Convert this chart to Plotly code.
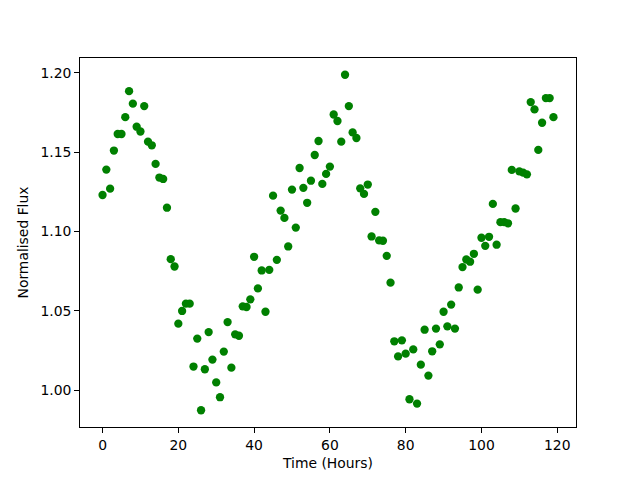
import plotly.graph_objects as go

hours = list(range(120))
flux = [
    1.123, 1.139, 1.127, 1.151, 1.1614, 1.1614, 1.172, 1.1884, 1.1805, 1.166,
    1.163, 1.179, 1.1566, 1.1543, 1.1426, 1.134, 1.1331, 1.115, 1.0826, 1.078,
    1.042, 1.050, 1.0546, 1.0546, 1.015, 1.0326, 0.9875, 1.0133, 1.0367, 1.0194,
    1.005, 0.9957, 1.0244, 1.043, 1.0143, 1.0353, 1.0344, 1.0529, 1.0525, 1.0573,
    1.0841, 1.0642, 1.0755, 1.0495, 1.0759, 1.1226, 1.0822, 1.1132, 1.1086, 1.0906,
    1.1264, 1.1025, 1.140, 1.1275, 1.1181, 1.132, 1.1482, 1.157, 1.130, 1.1363,
    1.1409, 1.1737, 1.1696, 1.1566, 1.1987, 1.179, 1.1624, 1.1589, 1.1272, 1.1237,
    1.1296, 1.0969, 1.1124, 1.0944, 1.0942, 1.0847, 1.0678, 1.0309, 1.0214, 1.0315,
    1.0231, 0.9944, 1.0258, 0.9917, 1.0162, 1.0382, 1.0093, 1.0246, 1.0389, 1.029,
    1.0495, 1.0403, 1.054, 1.0389, 1.0648, 1.0776, 1.0824, 1.081, 1.086, 1.0634,
    1.0961, 1.091, 1.0967, 1.1174, 1.0917, 1.1059, 1.1059, 1.1052, 1.1388, 1.1145,
    1.1379, 1.1371, 1.136, 1.1815, 1.1769, 1.1514, 1.1685, 1.184, 1.184, 1.172,
]
x_ticks = [0, 20, 40, 60, 80, 100, 120]
y_ticks = [1.00, 1.05, 1.10, 1.15, 1.20]

xmin, xmax = min(hours), max(hours)
ymin, ymax = min(flux), max(flux)
xpad = 0.05 * (xmax - xmin)
ypad = 0.05 * (ymax - ymin)

fig = go.Figure(go.Scatter(
    x=hours, y=flux, mode="markers",
    marker=dict(color="#008000", size=8.3, line=dict(width=0)),
))

font = dict(family="DejaVu Sans", size=13.9, color="black")
axis_common = dict(
    showgrid=False, zeroline=False, showline=True, linecolor="black",
    linewidth=1, mirror=True, ticks="outside", ticklen=4.9, tickwidth=1,
    tickcolor="black", tickfont=font, automargin=False,
)
fig.update_layout(
    width=632, height=472,
    margin=dict(l=72, r=64, t=50, b=53),
    paper_bgcolor="white", plot_bgcolor="white",
    showlegend=False,
    font=font,
    xaxis=dict(range=[xmin - xpad, xmax + xpad], tickvals=x_ticks,
               title=dict(text="Time (Hours)", font=font, standoff=6),
               **axis_common),
    yaxis=dict(range=[ymin - ypad, ymax + ypad], tickvals=y_ticks,
               tickformat=".2f",
               title=dict(text="Normalised Flux", font=font, standoff=8),
               **axis_common),
)
fig.write_html("out.html")
